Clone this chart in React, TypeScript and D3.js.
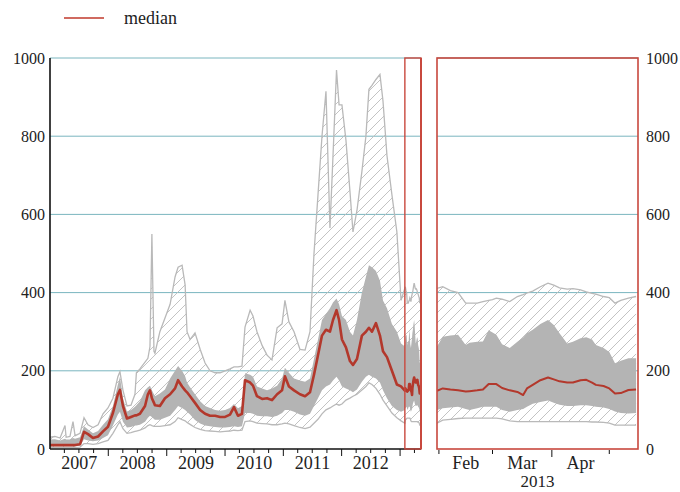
import React from "react";
import * as d3 from "d3";

// ---- Historical part (left panel) ----
const histDates = [
  "2007-01-01","2007-02-01","2007-03-05","2007-04-05","2007-04-12","2007-05-06","2007-05-25","2007-06-07",
  "2007-07-08","2007-08-02","2007-08-27","2007-09-27","2007-10-29","2007-11-29","2007-12-30",
  "2008-01-30","2008-03-01","2008-03-14","2008-04-02","2008-04-27","2008-05-22","2008-06-16","2008-06-25",
  "2008-07-17","2008-08-18","2008-09-05","2008-09-18","2008-09-30","2008-10-13","2008-10-19","2008-11-19","2008-12-21",
  "2009-01-22","2009-02-22","2009-03-13","2009-04-07","2009-04-26","2009-05-08","2009-05-27","2009-06-27",
  "2009-07-29","2009-08-29","2009-09-29","2009-10-31","2009-12-01",
  "2010-01-01","2010-02-01","2010-02-26","2010-03-23","2010-04-17","2010-05-06","2010-06-07","2010-06-25",
  "2010-07-20","2010-08-21","2010-09-21","2010-10-22","2010-11-23","2010-12-24",
  "2011-01-11","2011-02-05","2011-03-09","2011-04-15","2011-05-17","2011-06-17","2011-07-12","2011-08-06",
  "2011-08-31","2011-09-25","2011-10-20","2011-11-08","2011-11-30","2011-12-16",
  "2012-01-03","2012-01-28","2012-02-22","2012-03-12","2012-04-06","2012-05-07","2012-06-01","2012-06-20",
  "2012-07-09","2012-08-03","2012-08-28","2012-09-16","2012-10-11","2012-11-11","2012-12-12","2013-01-07",
];
const histUpper = [
  30,32,28,60,30,32,70,34,
  40,80,62,55,62,90,105,
  130,185,198,150,110,112,140,195,
  205,222,232,262,550,250,245,300,335,
  370,440,465,470,420,300,280,297,
  255,220,200,195,195,
  200,205,210,210,212,312,355,340,
  300,265,240,228,310,320,
  380,325,300,255,253,300,500,650,
  800,915,565,750,969,880,
  880,790,660,555,610,710,800,920,
  930,945,958,890,750,650,555,380,
];
const histHigh = [
  24,25,22,26,24,24,28,26,
  30,58,50,40,46,62,76,
  110,165,185,130,96,100,108,112,
  122,150,158,162,150,140,135,142,152,
  180,200,212,200,186,170,158,140,
  122,110,105,100,98,
  100,105,115,104,110,194,190,185,
  160,155,150,155,162,180,
  208,195,180,175,172,180,230,280,
  330,345,360,375,385,370,
  340,330,300,290,330,400,440,470,
  465,455,430,380,360,320,300,270,
];
const histMedian = [
  10,10,10,10,10,10,10,10,
  12,44,38,28,32,45,57,
  92,140,151,110,78,82,86,86,
  90,110,140,150,130,118,112,110,130,
  140,155,176,160,150,145,135,118,
  100,90,85,85,82,
  82,88,107,85,90,176,170,162,
  135,128,130,125,140,150,
  186,160,150,140,135,145,190,240,
  290,305,300,330,355,330,
  280,260,225,215,230,290,300,310,
  300,322,290,250,235,200,165,160,
];
const histLow = [
  7,7,7,7,7,7,7,7,
  8,25,22,20,22,28,35,
  60,88,95,70,55,56,60,60,
  62,70,80,85,82,77,75,75,80,
  85,100,110,105,100,95,88,74,
  65,60,58,56,55,
  55,56,58,56,58,92,92,90,
  85,84,84,82,85,92,
  100,100,95,88,85,90,110,130,
  150,160,165,175,185,175,
  160,155,150,145,152,172,185,190,
  185,180,170,150,130,110,100,95,
];
const histLower = [
  4,4,4,4,4,4,4,4,
  5,14,14,12,14,18,22,
  40,62,70,52,40,42,45,46,
  48,54,60,62,60,58,58,58,60,
  62,70,80,75,72,68,63,55,
  50,47,46,45,44,
  45,46,48,47,48,70,72,70,
  66,65,64,62,62,64,
  66,64,60,55,52,56,66,76,
  90,100,105,110,115,112,
  115,125,130,135,140,151,160,169,
  165,155,140,125,110,92,80,72,
];

// ---- Recent part (right panel, Feb – May 2013) ----
const recentDates = [
  "2013-01-31","2013-02-03","2013-02-07","2013-02-11","2013-02-15","2013-02-17","2013-02-21","2013-02-24",
  "2013-02-27","2013-03-01","2013-03-03","2013-03-06","2013-03-10","2013-03-14","2013-03-17","2013-03-19",
  "2013-03-22","2013-03-26","2013-03-30","2013-04-02","2013-04-05","2013-04-09","2013-04-12","2013-04-16",
  "2013-04-19","2013-04-22","2013-04-24","2013-04-28","2013-05-01","2013-05-04","2013-05-07","2013-05-11","2013-05-15",
];
const recentUpper = [
  411,415,405,400,373,373,373,377,380,382,386,383,377,390,395,399,
  404,415,424,419,412,409,410,407,402,398,396,390,387,373,380,386,390,
];
const recentHigh = [
  262,287,290,292,266,272,274,275,304,298,292,268,258,274,285,296,
  305,320,330,317,296,270,274,283,286,280,266,258,248,219,226,232,232,
];
const recentMedian = [
  149,155,152,150,147,148,150,152,166,166,166,156,150,146,138,155,
  164,176,183,178,173,170,170,176,177,170,164,161,155,142,143,151,152,
];
const recentLow = [
  100,104,106,108,102,100,104,108,108,108,108,100,95,100,102,108,
  116,120,124,118,113,110,110,112,112,110,108,106,102,96,92,91,92,
];
const recentLower = [
  66,74,76,78,79,79,79,79,79,79,79,77,72,70,70,70,
  70,70,70,70,70,70,70,70,70,69,69,68,66,61,61,61,61,
];

const yTicks = [0, 200, 400, 600, 800, 1000];
const yearLabels = ["2007", "2008", "2009", "2010", "2011", "2012"];
const monthLabels = ["Feb", "Mar", "Apr"];
const recentYearLabel = "2013";
const legendLabel = "median";

type Row = { d: Date; up: number; hi: number; med: number; lo: number; low: number };

const parse = d3.timeParse("%Y-%m-%d");

function buildRows(dates: string[], up: number[], hi: number[], med: number[], lo: number[], low: number[]): Row[] {
  return dates.map((s, i) => ({ d: parse(s) as Date, up: up[i], hi: hi[i], med: med[i], lo: lo[i], low: low[i] }));
}

const FONT = "'Liberation Serif', 'DejaVu Serif', serif";
const RED = "#b3382c";
const FRAME = "#c8483e";
const GRID = "#7ab6bf";
const BAND = "#b4b4b4";
const EDGE = "#b9b9b9";

function Panel({ rows, x, clipId, medWidth }: { rows: Row[]; x: d3.ScaleTime<number, number>; clipId: string; medWidth: number }) {
  const y = d3.scaleLinear().domain([0, 1000]).range([449, 58]);
  const outer = d3.area<Row>().x((r) => x(r.d)).y0((r) => y(r.low)).y1((r) => y(r.up))(rows) || "";
  const inner = d3.area<Row>().x((r) => x(r.d)).y0((r) => y(r.lo)).y1((r) => y(r.hi))(rows) || "";
  const line = (f: (r: Row) => number) => d3.line<Row>().x((r) => x(r.d)).y((r) => y(f(r)))(rows) || "";
  return (
    <g clipPath={`url(#${clipId})`}>
      <path d={outer} fill="url(#hatch)" stroke="none" />
      <path d={inner} fill={BAND} stroke="none" />
      <path d={line((r) => r.up)} fill="none" stroke={EDGE} strokeWidth={1.3} />
      <path d={line((r) => r.low)} fill="none" stroke={EDGE} strokeWidth={1.3} />
      <path d={line((r) => r.med)} fill="none" stroke={RED} strokeWidth={medWidth} strokeLinejoin="round" />
    </g>
  );
}

export default function App() {
  const W = 680, H = 492;
  const y = d3.scaleLinear().domain([0, 1000]).range([449, 58]);
  const hist = buildRows(histDates, histUpper, histHigh, histMedian, histLow, histLower);
  const recent = buildRows(recentDates, recentUpper, recentHigh, recentMedian, recentLow, recentLower);
  const all = hist.concat(recent);

  const xL = d3.scaleTime().domain([parse("2007-01-01") as Date, parse("2013-05-12") as Date]).range([50, 421]);
  const xR = d3.scaleTime().domain([parse("2013-01-31") as Date, parse("2013-05-16") as Date]).range([437, 638]);

  const [l0, l1] = xL.range();
  const [r0, r1] = xR.range();
  const top = y(1000), bot = y(0);

  const quarterTicks = d3.timeMonth.every(3)!.range(xL.domain()[0], xL.domain()[1]);
  const monthTicks = d3.timeMonth.range(xR.domain()[0], xR.domain()[1]);
  const hlStart = xL(recent[0].d);

  return (
    <svg width={W} height={H} style={{ position: "absolute", left: 0, top: 0, background: "#fff" }} fontFamily={FONT}>
      <defs>
        <pattern id="hatch" patternUnits="userSpaceOnUse" width={10} height={10}>
          <path d="M-1,1 l2,-2 M0,10 l10,-10 M9,11 l2,-2" stroke="#bcbcbc" strokeWidth={0.9} />
        </pattern>
        <clipPath id="clipL"><rect x={l0} y={top} width={l1 - l0} height={bot - top} /></clipPath>
        <clipPath id="clipR"><rect x={r0} y={top} width={r1 - r0} height={bot - top} /></clipPath>
      </defs>

      {/* legend */}
      <line x1={64} x2={104} y1={18} y2={18} stroke="#c0392b" strokeWidth={1.4} />
      <text x={124} y={24} fontSize={18} fill="#222">{legendLabel}</text>

      {/* gridlines */}
      {yTicks.filter((t) => t > 0).map((t) => (
        <g key={"g" + t}>
          <line x1={l0} x2={l1} y1={y(t)} y2={y(t)} stroke={GRID} strokeWidth={1} />
          <line x1={r0} x2={r1} y1={y(t)} y2={y(t)} stroke={GRID} strokeWidth={1} />
        </g>
      ))}

      <Panel rows={all} x={xL} clipId="clipL" medWidth={2.6} />
      <Panel rows={recent} x={xR} clipId="clipR" medWidth={2} />

      {/* left axes */}
      <line x1={l0} x2={l0} y1={top} y2={bot} stroke="#111" strokeWidth={1.6} />
      <line x1={l0} x2={l1} y1={bot} y2={bot} stroke="#111" strokeWidth={1.4} />
      {quarterTicks.map((d, i) => {
        const isYear = d.getMonth() === 0;
        const xx = xL(d);
        if (xx <= l0 + 0.5) return null;
        return <line key={"qt" + i} x1={xx} x2={xx} y1={bot} y2={bot + (isYear ? 7 : 4)} stroke="#111" strokeWidth={1} />;
      })}
      {yearLabels.map((lab) => {
        const a = xL(parse(`${lab}-01-01`) as Date);
        const b = xL(parse(`${+lab + 1}-01-01`) as Date);
        return (
          <text key={lab} x={(a + b) / 2} y={469} fontSize={18} textAnchor="middle" fill="#222">{lab}</text>
        );
      })}
      {yTicks.map((t) => (
        <text key={"yl" + t} x={45} y={y(t)} fontSize={16} textAnchor="end" dominantBaseline="central" fill="#222">{t}</text>
      ))}

      {/* highlight rectangle in left panel */}
      <rect x={hlStart} y={top} width={l1 - hlStart} height={bot - top} fill="none" stroke={FRAME} strokeWidth={1.4} />
      <line x1={l1} x2={l1} y1={top} y2={bot} stroke={FRAME} strokeWidth={2} />

      {/* right panel frame and axes */}
      <rect x={r0} y={top} width={r1 - r0} height={bot - top} fill="none" stroke={FRAME} strokeWidth={1.6} />
      {monthTicks.map((d, i) => {
        const xx = xR(d);
        const isQ = d.getMonth() % 3 === 0;
        return <line key={"mt" + i} x1={xx} x2={xx} y1={bot + 1} y2={bot + (isQ ? 8 : 5)} stroke="#111" strokeWidth={1} />;
      })}
      {monthLabels.map((lab, i) => {
        const a = xR(monthTicks[i]);
        const b = xR(monthTicks[i + 1]);
        return <text key={lab} x={(a + b) / 2} y={469} fontSize={18} textAnchor="middle" fill="#222">{lab}</text>;
      })}
      <text x={(r0 + r1) / 2} y={487} fontSize={17} textAnchor="middle" fill="#222">{recentYearLabel}</text>
      {yTicks.map((t) => (
        <text key={"yr" + t} x={646} y={y(t)} fontSize={16} textAnchor="start" dominantBaseline="central" fill="#222">{t}</text>
      ))}
    </svg>
  );
}
